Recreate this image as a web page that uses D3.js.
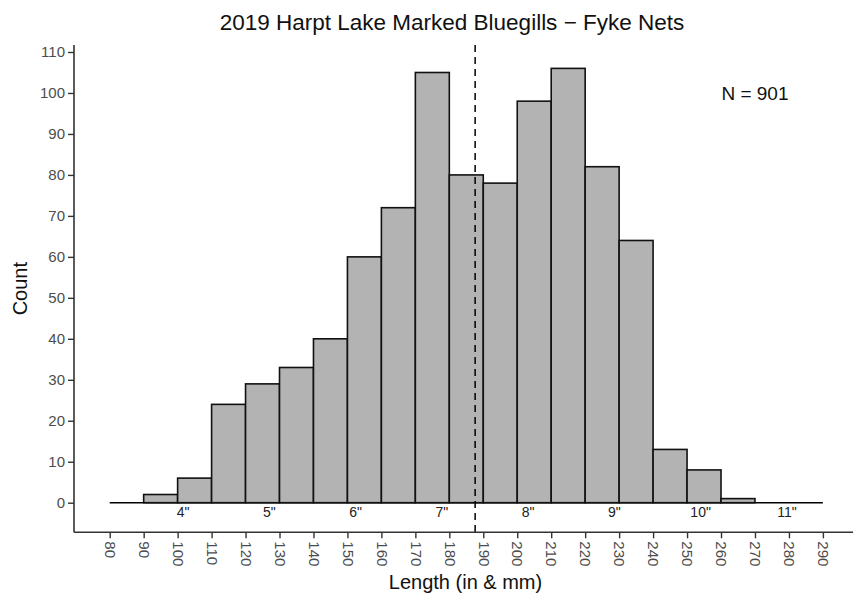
<!DOCTYPE html>
<html>
<head>
<meta charset="utf-8">
<script src="https://cdn.jsdelivr.net/npm/d3@7"></script>
<style>
  html, body { margin: 0; padding: 0; background: #fff; }
  svg { display: block; font-family: "Liberation Sans", Arial, Helvetica, sans-serif; }
</style>
</head>
<body>
<svg id="chart" width="853" height="595"></svg>
<script>
// ---- data ----
const binStarts = [80, 90, 100, 110, 120, 130, 140, 150, 160, 170, 180, 190, 200, 210, 220, 230, 240, 250, 260, 270, 280];
const binWidth = 10;
const counts    = [0, 2, 6, 24, 29, 33, 40, 60, 72, 105, 80, 78, 98, 106, 82, 64, 13, 8, 1, 0, 0];
const xTicks = [80, 90, 100, 110, 120, 130, 140, 150, 160, 170, 180, 190, 200, 210, 220, 230, 240, 250, 260, 270, 280, 290];
const yTicks = [0, 10, 20, 30, 40, 50, 60, 70, 80, 90, 100, 110];
const inchValues = [4, 5, 6, 7, 8, 9, 10, 11];
const inchLabels = ['4"', '5"', '6"', '7"', '8"', '9"', '10"', '11"'];
const meanLength = 187.6;
const nLabel = "N = 901";
const nPos = [270, 100];
const titleText = "2019 Harpt Lake Marked Bluegills \u2212 Fyke Nets";
const xTitle = "Length (in & mm)";
const yTitle = "Count";

// ---- layout ----
const svg = d3.select("#chart");
const panel = { left: 74, right: 857, top: 45, bottom: 532.3 };
const x = d3.scaleLinear().domain([80, 290]).range([109.7, 822.9]);
const y = d3.scaleLinear().domain([0, 110]).range([502.7, 52]);
const tickCol = "#4d4d4d";
const lw = 1.6;

// bars
const bars = binStarts.map((s, i) => ({ s, c: counts[i] })).filter(d => d.c > 0);
svg.append("line")
  .attr("x1", x(binStarts[0])).attr("x2", x(binStarts[binStarts.length - 1] + binWidth))
  .attr("y1", y(0)).attr("y2", y(0))
  .attr("stroke", "#000").attr("stroke-width", lw);
svg.append("g").selectAll("rect").data(bars).join("rect")
  .attr("x", d => x(d.s)).attr("width", d => x(d.s + binWidth) - x(d.s))
  .attr("y", d => y(d.c)).attr("height", d => y(0) - y(d.c))
  .attr("fill", "#b3b3b3").attr("stroke", "#111").attr("stroke-width", lw);

// mean dashed line
svg.append("line")
  .attr("x1", x(meanLength)).attr("x2", x(meanLength))
  .attr("y1", panel.top).attr("y2", panel.bottom)
  .attr("stroke", "#000").attr("stroke-width", 1.5).attr("stroke-dasharray", "7,5");

// inch labels
svg.append("g").selectAll("text").data(inchValues).join("text")
  .attr("x", d => x(d * 25.4)).attr("y", y(0) + 9)
  .attr("dy", "0.35em").attr("text-anchor", "middle")
  .attr("font-size", 14).attr("fill", "#222")
  .text((d, i) => inchLabels[i]);

// N label
svg.append("text")
  .attr("x", x(nPos[0])).attr("y", y(nPos[1])).attr("dy", "0.35em")
  .attr("text-anchor", "middle").attr("font-size", 19).attr("fill", "#111")
  .text(nLabel);

// y axis
const yAxis = svg.append("g").attr("transform", `translate(${panel.left},0)`)
  .call(d3.axisLeft(y).tickValues(yTicks).tickSize(6).tickPadding(3));
yAxis.select(".domain").remove();
yAxis.selectAll(".tick line").attr("stroke", "#333").attr("stroke-width", 1.4);
yAxis.selectAll(".tick text").attr("font-size", 15).attr("fill", tickCol).attr("font-family", null);
svg.append("line").attr("x1", panel.left).attr("x2", panel.left)
  .attr("y1", panel.top).attr("y2", panel.bottom)
  .attr("stroke", "#333").attr("stroke-width", lw);

// x axis
const xAxis = svg.append("g").attr("transform", `translate(0,${panel.bottom})`)
  .call(d3.axisBottom(x).tickValues(xTicks).tickSize(6));
xAxis.select(".domain").remove();
xAxis.selectAll(".tick line").attr("stroke", "#333").attr("stroke-width", 1.4);
xAxis.selectAll(".tick text")
  .attr("font-size", 15).attr("fill", tickCol).attr("font-family", null)
  .attr("transform", "rotate(90)")
  .attr("x", 9).attr("y", 0).attr("dy", "0.35em")
  .attr("text-anchor", "start");
svg.append("line").attr("x1", panel.left).attr("x2", panel.right)
  .attr("y1", panel.bottom).attr("y2", panel.bottom)
  .attr("stroke", "#333").attr("stroke-width", lw);

// titles
svg.append("text").attr("x", 452).attr("y", 30)
  .attr("text-anchor", "middle").attr("font-size", 22.5).attr("fill", "#111")
  .text(titleText);
svg.append("text").attr("x", (panel.left + panel.right) / 2).attr("y", 589)
  .attr("text-anchor", "middle").attr("font-size", 20).attr("fill", "#111")
  .text(xTitle);
svg.append("text")
  .attr("transform", `translate(27,${(panel.top + panel.bottom) / 2}) rotate(-90)`)
  .attr("text-anchor", "middle").attr("font-size", 20).attr("fill", "#111")
  .text(yTitle);
</script>
</body>
</html>
